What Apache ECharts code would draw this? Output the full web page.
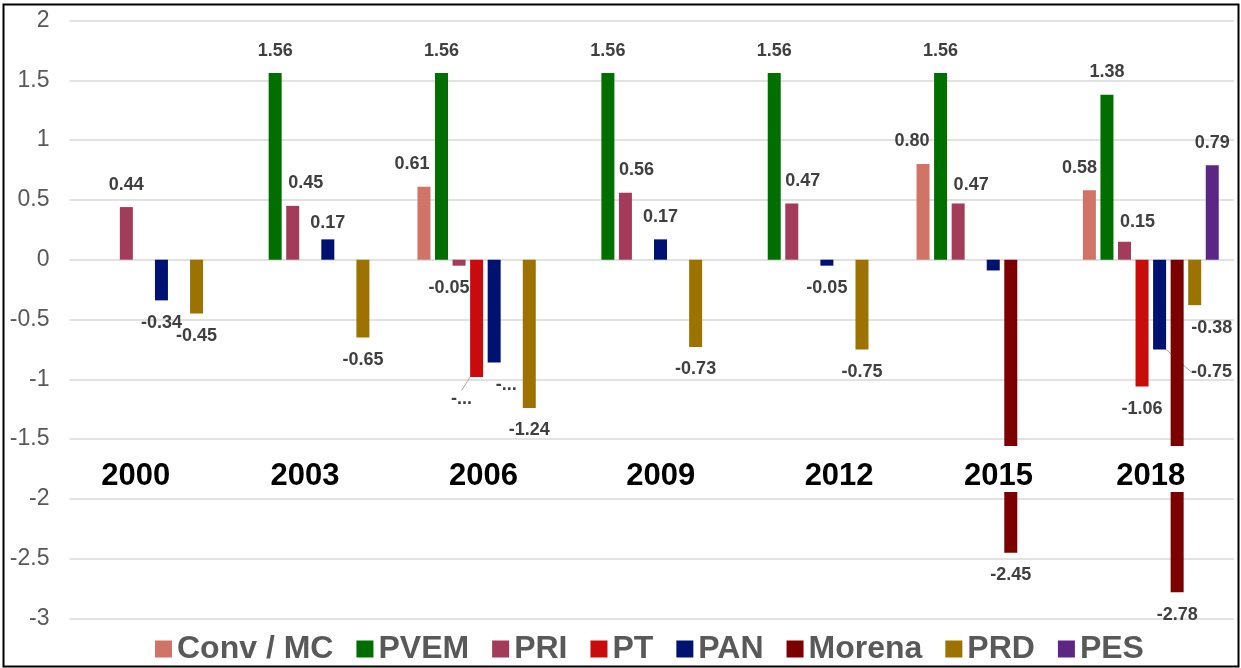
<!DOCTYPE html>
<html>
<head>
<meta charset="utf-8">
<title>Cambio por partido</title>
<script src="https://cdn.jsdelivr.net/npm/echarts@6/dist/echarts.min.js"></script>
<style>
  html, body { margin: 0; padding: 0; background: #fff; }
  #chart { width: 1241px; height: 668px; }
</style>
</head>
<body>
<div id="chart"></div>
<script>
// datos
const years = ['2000', '2003', '2006', '2009', '2012', '2015', '2018']
const convMC = [null, null, 0.61, null, null, 0.80, 0.58]
const pvem = [null, 1.56, 1.56, 1.56, 1.56, 1.56, 1.38]
const pri = [0.44, 0.45, -0.05, 0.56, 0.47, 0.47, 0.15]
const pt = [null, null, -0.98, null, null, null, -1.06]
const pan = [-0.34, 0.17, -0.86, 0.17, -0.05, -0.09, -0.75]
const morena = [null, null, null, null, null, -2.45, -2.78]
const prd = [-0.45, -0.65, -1.24, -0.73, -0.75, null, -0.38]
const pes = [null, null, null, null, null, null, 0.79]

const seriesNames = ['Conv / MC', 'PVEM', 'PRI', 'PT', 'PAN', 'Morena', 'PRD', 'PES']
const seriesValues = [convMC, pvem, pri, pt, pan, morena, prd, pes]
const seriesColors = ['#cf7467', '#006f00', '#a33b5b', '#c80c0c', '#001271', '#7c0000', '#9c7300', '#5c2784']

// etiquetas movidas a mano en el original [dx, dy]
const labelShift = {
  'Conv / MC': { 2: [-12, 0], 5: [-11, 0], 6: [-10, 0] },
  'PRI': { 1: [13, 0], 2: [-10, 0], 3: [11, 0], 4: [11, 0], 5: [13, 4], 6: [13, 3] },
  'PT': { 2: [-15, 0] },
  'PAN': { 1: [0, 6], 2: [12, 0], 6: [52, 0] },
  'PRD': { 6: [17, 0] }
}
// las que llevan linea guia
const leaderLines = { 'PT': [2], 'PAN': [6] }
const labelText = { 'PT': { 2: '-...' }, 'PAN': { 2: '-...', 5: '' } }
// desplazamiento horizontal de los rotulos de anio
const yearShift = [-17, -14, -2, 9, 21, 14, 0]

const fontFamily = 'Liberation Sans, Arial, sans-serif'

const chart = echarts.init(document.getElementById('chart'))

const yearRich = {
  t: {
    fontSize: 31,
    fontWeight: 'bold',
    color: '#000',
    fontFamily: fontFamily,
    lineHeight: 31,
    backgroundColor: '#fff',
    padding: [15, 4, 0, 4]
  }
}
yearShift.forEach((s, i) => {
  yearRich['g' + i] = { width: Math.abs(s) * 2, fontSize: 10, lineHeight: 10 }
})

const series = seriesNames.map((name, k) => {
  return {
    name: name,
    type: 'bar',
    barWidth: 13,
    barGap: '35%',
    itemStyle: { color: seriesColors[k] },
    label: {
      show: true,
      distance: 13.5,
      fontSize: 18,
      lineHeight: 18,
      fontWeight: 'bold',
      color: '#404040',
      fontFamily: fontFamily,
      formatter: (p) => p.value.toFixed(2)
    },
    labelLine: {
      show: false,
      lineStyle: { color: '#a6a6a6', width: 1 }
    },
    labelLayout: (p) => {
      const m = labelShift[name]
      const o = m && m[p.dataIndex]
      return o ? { dx: o[0], dy: o[1] } : {}
    },
    data: seriesValues[k].map((v, i) => {
      if (v == null) return null
      const item = { value: v, label: { position: v < 0 ? 'bottom' : 'top' } }
      const txt = labelText[name] && labelText[name][i]
      if (txt !== undefined) {
        if (txt === '') item.label.show = false
        else item.label.formatter = txt
      }
      if (leaderLines[name] && leaderLines[name].indexOf(i) >= 0) item.labelLine = { show: true }
      return item
    })
  }
})

chart.setOption({
  animation: false,
  backgroundColor: '#fff',
  textStyle: { fontFamily: fontFamily },
  grid: {
    left: 69.5,
    right: 7,
    top: 20.5,
    bottom: 49.5,
    outerBoundsMode: 'none'
  },
  legend: {
    left: 155,
    top: 633,
    padding: 0,
    icon: 'rect',
    itemWidth: 17,
    itemHeight: 17,
    itemGap: 23,
    textStyle: {
      fontSize: 32,
      fontWeight: 'bold',
      color: '#595959',
      fontFamily: fontFamily
    },
    data: seriesNames
  },
  xAxis: {
    type: 'category',
    data: years,
    z: 10,
    axisLine: { show: false },
    axisTick: { show: false },
    splitLine: { show: false },
    axisLabel: {
      interval: 0,
      margin: -165,
      formatter: (v, i) => {
        const s = yearShift[i]
        return s >= 0 ? '{g' + i + '| }{t|' + v + '}' : '{t|' + v + '}{g' + i + '| }'
      },
      rich: yearRich
    }
  },
  yAxis: {
    type: 'value',
    min: -3,
    max: 2,
    interval: 0.5,
    axisLine: { show: false },
    axisTick: { show: false },
    axisLabel: {
      fontSize: 23,
      color: '#595959',
      margin: 20,
      fontFamily: fontFamily
    },
    splitLine: {
      lineStyle: { color: '#d9d9d9', width: 1.5 }
    }
  },
  graphic: [{
    type: 'rect',
    silent: true,
    z: 100,
    shape: { x: 3.5, y: 4.5, width: 1235, height: 662 },
    style: { fill: null, stroke: '#000', lineWidth: 2 }
  }],
  series: series
})
</script>
</body>
</html>
